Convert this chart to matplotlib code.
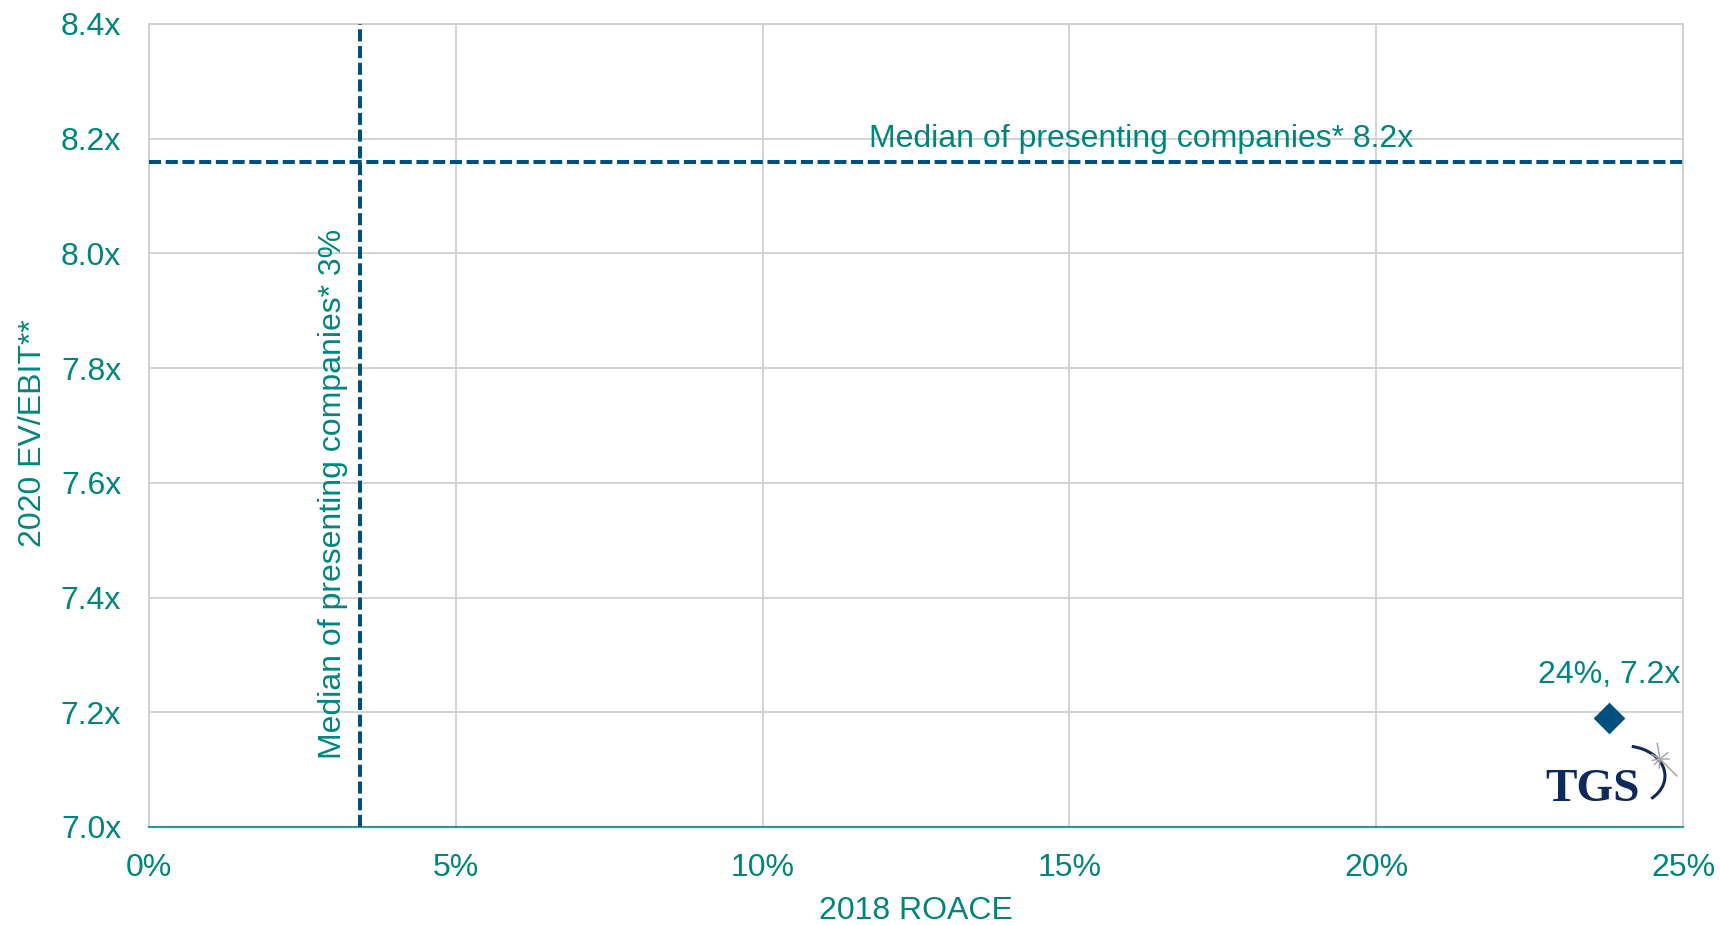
import matplotlib
matplotlib.use("Agg")
import matplotlib.pyplot as plt
from matplotlib.patches import Arc
import numpy as np

# ---- data ----
x_ticks = [0, 5, 10, 15, 20, 25]
x_tick_labels = ["0%", "5%", "10%", "15%", "20%", "25%"]
y_ticks = [7.0, 7.2, 7.4, 7.6, 7.8, 8.0, 8.2, 8.4]
y_tick_labels = ["7.0x", "7.2x", "7.4x", "7.6x", "7.8x", "8.0x", "8.2x", "8.4x"]
company_roace = [23.8]
company_ev_ebit = [7.19]
company_label = ["24%, 7.2x"]
median_roace = 3.44
median_ev_ebit = 8.16
median_x_label = "Median of presenting companies* 3%"
median_y_label = "Median of presenting companies* 8.2x"
x_label = "2018 ROACE"
y_label = "2020 EV/EBIT**"

TEAL = "#00857C"
NAVY = "#00507F"
GRID = "#D0D0D0"
FS = 23

plt.rcParams["font.family"] = ["Liberation Sans", "DejaVu Sans"]

fig = plt.figure(figsize=(17.2, 9.25), dpi=100)
W, H = 1720, 925
left, right, top, bottom = 149, 1683, 24, 827
ax = fig.add_axes([left / W, 1 - bottom / H, (right - left) / W, (bottom - top) / H])

ax.set_xlim(0, 25)
ax.set_ylim(7.0, 8.4)
ax.set_xticks(x_ticks)
ax.set_xticklabels(x_tick_labels)
ax.set_yticks(y_ticks)
ax.set_yticklabels(y_tick_labels)
ax.tick_params(axis="both", length=0, labelsize=FS, labelcolor=TEAL)
ax.tick_params(axis="x", pad=19)
ax.tick_params(axis="y", pad=20)
ax.grid(True, color=GRID, linewidth=1.3)
ax.set_axisbelow(True)
for s in ["left", "right", "top"]:
    ax.spines[s].set_color(GRID)
    ax.spines[s].set_linewidth(1.3)
ax.spines["bottom"].set_color("#2E9A94")
ax.spines["bottom"].set_linewidth(1.6)

ax.set_xlabel(x_label, fontsize=FS, color=TEAL, labelpad=9)
ax.set_ylabel(y_label, fontsize=FS, color=TEAL)
ax.yaxis.set_label_coords(-0.066, 0.49)

# median lines
ax.axhline(median_ev_ebit, color=NAVY, linewidth=2.9, dashes=(3.0, 1.15), zorder=3)
ax.axvline(median_roace, color=NAVY, linewidth=2.9, dashes=(3.0, 1.15), zorder=3)

ax.text(16.17, 8.2, median_y_label, fontsize=FS, color=TEAL, ha="center", va="center")
ax.text(3.0, 7.58, median_x_label, fontsize=FS, color=TEAL,
        ha="center", va="center", rotation=90)

# company point
ax.scatter(company_roace, company_ev_ebit, marker="D", s=260, color=NAVY, zorder=5,
           linewidths=0)
for xv, yv, lab in zip(company_roace, company_ev_ebit, company_label):
    ax.annotate(lab, (xv, yv), xytext=(0, 20), textcoords="offset points",
                ha="center", va="bottom", fontsize=FS, color=TEAL)

# TGS logo
ax.text(1593 / W, 1 - 801 / H, "TGS", transform=fig.transFigure, fontsize=34,
        fontweight="bold", family=["Liberation Serif", "DejaVu Serif"],
        color="#0E2A5C", ha="center", va="baseline")
arc = Arc((1625 / W, 1 - 776 / H), 80 / W, 60 / H, angle=0, theta1=-58, theta2=83,
          transform=fig.transFigure, color="#0E2A5C", linewidth=2.2)
fig.add_artist(arc)
cx, cy = 1660, 759
for ang, ln in [(0, 9), (40, 10), (100, 16), (150, 9), (-45, 24), (190, 8), (-95, 9), (-135, 8)]:
    a = np.deg2rad(ang)
    fig.add_artist(plt.Line2D([cx / W, (cx + ln * np.cos(a)) / W],
                              [1 - cy / H, 1 - (cy - ln * np.sin(a)) / H],
                              transform=fig.transFigure, color="#A8A8A8", linewidth=1.1))

fig.savefig("out.png", dpi=100)
